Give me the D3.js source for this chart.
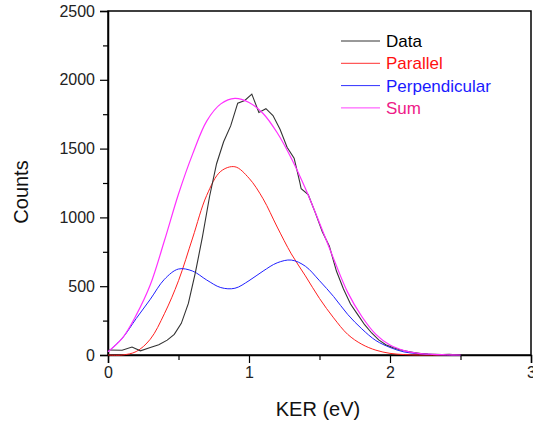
<!DOCTYPE html>
<html>
<head>
<meta charset="utf-8">
<script src="https://cdn.jsdelivr.net/npm/d3@7"></script>
<style>
  body { margin: 0; background: #fff; }
  text { font-family: "Liberation Sans", Arial, sans-serif; }
</style>
</head>
<body>
<svg width="533" height="425"></svg>
<script>
// model curves, read every 0.1 eV
var kerModel = [0,0.1,0.2,0.3,0.4,0.5,0.6,0.7,0.8,0.9,1.0,1.1,1.2,1.3,1.4,1.5,1.6,1.7,1.8,1.9,2.0,2.1,2.2,2.3,2.4,2.5];
var parallel = [0,0,25,115,300,540,850,1160,1335,1368,1285,1135,930,735,575,411,270,150,78,35,12,3,0,0,0,0];
var perpendicular = [24,120,265,405,550,625,610,545,490,485,540,610,670,690,645,540,425,295,190,105,55,22,10,4,1,0];
var sum = [24,120,290,510,830,1170,1460,1700,1825,1865,1835,1755,1615,1430,1210,960,700,455,280,150,72,32,12,5,2,0];

// measured data
var kerData = [0,0.10,0.17,0.23,0.30,0.36,0.42,0.47,0.52,0.57,0.62,0.67,0.72,0.77,0.82,0.87,0.92,0.97,1.02,1.07,1.12,1.17,1.22,1.27,1.32,1.36,1.37,1.42,1.47,1.52,1.57,1.62,1.67,1.72,1.77,1.82,1.87,1.92,1.97,2.02,2.07,2.12,2.17,2.22,2.27,2.32,2.37,2.42,2.47,2.50];
var counts = [36,35,58,30,55,75,108,150,230,375,600,860,1150,1390,1550,1665,1830,1850,1896,1763,1790,1740,1640,1510,1430,1256,1208,1165,1035,895,790,610,480,370,295,220,160,110,75,55,38,27,17,11,7,5,3,5,2,3];

var xTicks = [0,1,2,3];
var yTicks = [0,500,1000,1500,2000,2500];
var legendNames = ["Data","Parallel","Perpendicular","Sum"];

var svg = d3.select("svg");
var pLeft = 108, pRight = 531, pTop = 11, pBottom = 355;

var x = d3.scaleLinear().domain([0,3]).range([pLeft,pRight]);
var y = d3.scaleLinear().domain([0,2500]).range([pBottom,pTop]);

// frame
svg.append("rect")
    .attr("x", pLeft).attr("y", pTop)
    .attr("width", pRight-pLeft).attr("height", pBottom-pTop)
    .attr("fill", "none").attr("stroke", "#000").attr("stroke-width", 1.5);

// minor ticks
svg.append("g").attr("transform", "translate(0,"+pBottom+")")
    .call(d3.axisBottom(x).tickValues([0.5,1.5,2.5]).tickSize(5).tickFormat(""))
    .call(function(g){ g.select(".domain").remove(); });
svg.append("g").attr("transform", "translate("+pLeft+",0)")
    .call(d3.axisLeft(y).tickValues(d3.range(250,2500,500)).tickSize(5).tickFormat(""))
    .call(function(g){ g.select(".domain").remove(); });

// major ticks
var xAxis = svg.append("g").attr("transform", "translate(0,"+pBottom+")")
    .call(d3.axisBottom(x).tickValues(xTicks).tickSize(8).tickPadding(4).tickFormat(d3.format("d")));
var yAxis = svg.append("g").attr("transform", "translate("+pLeft+",0)")
    .call(d3.axisLeft(y).tickValues(yTicks).tickSize(8).tickPadding(5).tickFormat(d3.format("d")));

[xAxis, yAxis].forEach(function(g){
    g.attr("font-size", null).attr("font-family", null);
    g.select(".domain").attr("stroke-width", 1.5);
    g.selectAll("text").style("font-size", "16px").attr("fill", "#222");
});
svg.selectAll(".tick line").attr("stroke-width", 1.2);

// titles
svg.append("text")
    .attr("transform", "translate(28,192) rotate(-90)")
    .attr("text-anchor", "middle")
    .style("font-size", "20px").attr("fill", "#111")
    .text("Counts");
svg.append("text")
    .attr("x", 318).attr("y", 416)
    .attr("text-anchor", "middle")
    .style("font-size", "20px").attr("fill", "#111")
    .text("KER (eV)");

var smooth = d3.line()
    .x(function(d){ return x(d[0]); })
    .y(function(d){ return y(d[1]); })
    .curve(d3.curveCatmullRom.alpha(0.5));
var straight = d3.line()
    .x(function(d){ return x(d[0]); })
    .y(function(d){ return y(d[1]); });

var plot = svg.append("g");
plot.append("path").datum(d3.zip(kerModel, parallel))
    .attr("d", smooth).attr("fill", "none").attr("stroke", "#ff2020").attr("stroke-width", 1);
plot.append("path").datum(d3.zip(kerModel, perpendicular))
    .attr("d", smooth).attr("fill", "none").attr("stroke", "#2020ff").attr("stroke-width", 1);
plot.append("path").datum(d3.zip(kerData, counts))
    .attr("d", straight).attr("fill", "none").attr("stroke", "#333").attr("stroke-width", 1.1);
plot.append("path").datum(d3.zip(kerModel, sum))
    .attr("d", smooth).attr("fill", "none").attr("stroke", "#ff30ff").attr("stroke-width", 1.2);

// legend
var lineColors = ["#333","#ff3030","#3030ff","#ff40ff"];
var textColors = ["#000","#ff1010","#1a1aff","#ee1a88"];
var legend = svg.append("g").selectAll("g")
    .data(legendNames)
    .enter()
    .append("g")
    .attr("transform", function(d,i){ return "translate(0,"+(41+i*22.3)+")"; });
legend.append("line")
    .attr("x1", 341).attr("x2", 380)
    .attr("stroke", function(d,i){ return lineColors[i]; })
    .attr("stroke-width", 1);
legend.append("text")
    .attr("x", 386).attr("dy", "0.36em")
    .style("font-size", "17px")
    .attr("fill", function(d,i){ return textColors[i]; })
    .text(function(d){ return d; });
</script>
</body>
</html>
